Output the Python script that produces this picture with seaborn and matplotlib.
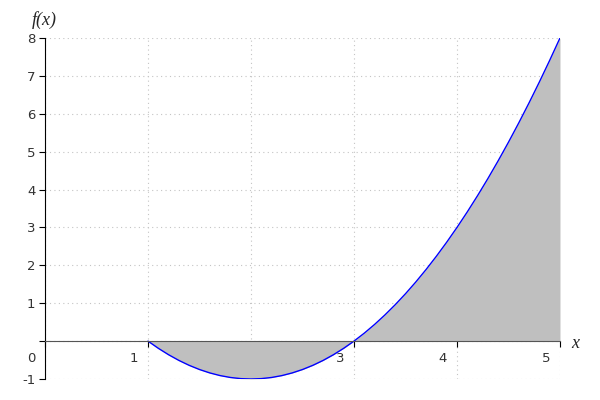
import matplotlib
matplotlib.use("Agg")
import matplotlib.pyplot as plt
import matplotlib.transforms as mtransforms
import seaborn as sns

# points, x from 1 to 5
x_values = [1.0, 1.1, 1.2, 1.3, 1.4, 1.5, 1.6, 1.7, 1.8, 1.9,
            2.0, 2.1, 2.2, 2.3, 2.4, 2.5, 2.6, 2.7, 2.8, 2.9,
            3.0, 3.1, 3.2, 3.3, 3.4, 3.5, 3.6, 3.7, 3.8, 3.9,
            4.0, 4.1, 4.2, 4.3, 4.4, 4.5, 4.6, 4.7, 4.8, 4.9, 5.0]
y_values = [0.0, -0.19, -0.36, -0.51, -0.64, -0.75, -0.84, -0.91, -0.96, -0.99,
            -1.0, -0.99, -0.96, -0.91, -0.84, -0.75, -0.64, -0.51, -0.36, -0.19,
            0.0, 0.21, 0.44, 0.69, 0.96, 1.25, 1.56, 1.89, 2.24, 2.61,
            3.0, 3.41, 3.84, 4.29, 4.76, 5.25, 5.76, 6.29, 6.84, 7.41, 8.0]
x_ticks = [0, 1, 2, 3, 4, 5]
y_ticks = [-1, 0, 1, 2, 3, 4, 5, 6, 7, 8]
y_tick_labels = ["-1", "", "1", "2", "3", "4", "5", "6", "7", "8"]

sns.set_style("white")
fig = plt.figure(figsize=(6, 4), dpi=100)
ax = fig.add_axes([0.075, 0.0525, 0.8583, 0.8525])

ax.grid(True, linestyle=(0, (1, 3)), color="#c4c4c4", linewidth=0.8)
ax.set_axisbelow(True)

ax.fill_between(x_values, y_values, 0, color="#bfbfbf", linewidth=0, zorder=2)
sns.lineplot(x=x_values, y=y_values, color="blue", linewidth=1, ax=ax, zorder=3)

ax.set_xlim(0, 5)
ax.set_ylim(-1, 8)
ax.set_xticks(x_ticks)
ax.set_xticklabels([str(t) for t in x_ticks])
ax.set_yticks(y_ticks)
ax.set_yticklabels(y_tick_labels)

for side in ["top", "right"]:
    ax.spines[side].set_visible(False)
ax.spines["bottom"].set_position(("data", 0))
ax.spines["bottom"].set_color("#555555")
ax.spines["left"].set_color("black")
ax.spines["bottom"].set_zorder(4)

ax.tick_params(axis="both", direction="out", length=4.5, width=0.8, color="black",
               labelsize=9.5, labelcolor="#333333", bottom=True, left=True)
ax.tick_params(axis="x", pad=3.5)
ax.tick_params(axis="y", pad=2.5)
ax.set_xlabel("")
ax.set_ylabel("")

shift = mtransforms.ScaledTranslation(-0.14, 0, fig.dpi_scale_trans)
for label in ax.get_xticklabels():
    label.set_transform(label.get_transform() + shift)

fig.text(44 / 600, 1 - 20 / 400, "f(x)", family="Liberation Serif", style="italic",
         fontsize=13, ha="center", va="center")
fig.text(575 / 600, 1 - 344 / 400, "x", family="Liberation Serif", style="italic",
         fontsize=13, ha="center", va="center")

fig.savefig("out.png", dpi=100)
plt.close(fig)
